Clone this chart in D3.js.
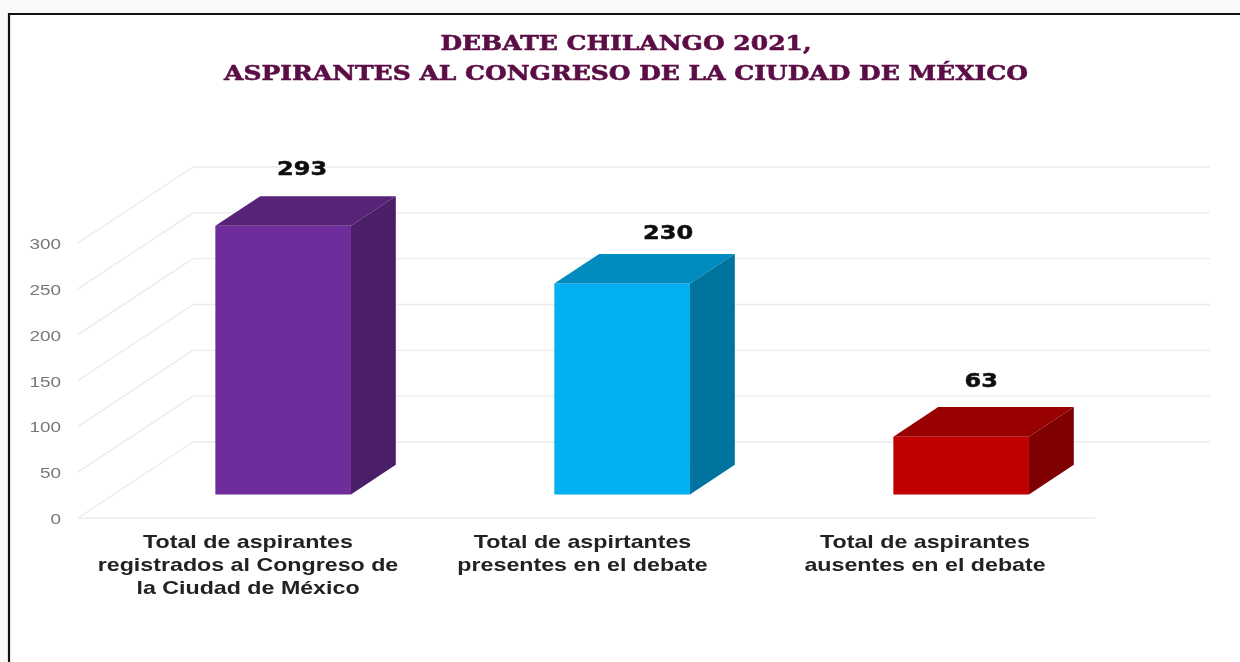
<!DOCTYPE html>
<html>
<head>
<meta charset="utf-8">
<script src="https://cdn.jsdelivr.net/npm/d3@7"></script>
<style>
  html, body { margin: 0; padding: 0; background: #fff; }
  svg { display: block; }
</style>
</head>
<body>
<div id="chart"></div>
<script>
var titleLines = ['DEBATE CHILANGO 2021,', 'ASPIRANTES AL CONGRESO DE LA CIUDAD DE MÉXICO'];
var categories = ['registrados', 'presentes', 'ausentes'];
var values = [293, 230, 63];
var categoryLabels = [
    ['Total de aspirantes', 'registrados al Congreso de', 'la Ciudad de México'],
    ['Total de aspirtantes', 'presentes en el debate'],
    ['Total de aspirantes', 'ausentes en el debate']
];
var tickValues = [0, 50, 100, 150, 200, 250, 300];

var frontColors = ['#6f2c9b', '#00b0f0', '#c00000'];
var topColors = ['#582378', '#008cbf', '#990000'];
var sideColors = ['#4a1f68', '#00749e', '#7e0000'];

var width = 1240,
    height = 662

// oblique projection of the 3d plot box
var depthX = 115,
    depthY = 76,
    barNear = 0.31,
    barFar = 0.7

var x = d3.scaleBand().domain(categories).range([78, 1095]);
var y = d3.scaleLinear().domain([0, 300]).range([518, 243]);
var barWidth = x.bandwidth() * 0.4;

var svg = d3.select('#chart').append('svg')
    .attr('width', width)
    .attr('height', height)

svg.append('filter')
    .attr('id', 'soft')
  .append('feGaussianBlur')
    .attr('stdDeviation', 0.45)

svg.append('rect')
    .attr('width', width)
    .attr('height', height)
    .attr('fill', '#f9f9f9')

svg.append('rect')
    .attr('x', 9)
    .attr('y', 14)
    .attr('width', width - 9)
    .attr('height', height - 14)
    .attr('fill', '#fff')

// frame, open on the right
svg.append('path')
    .attr('d', 'M9,662V14H1240')
    .attr('fill', 'none')
    .attr('stroke', '#111')
    .attr('stroke-width', 2.2)

// the source picture is a stretched scan, so text gets widened with scale()
svg.append('g')
    .attr('filter', 'url(#soft)')
    .selectAll('text')
    .data(titleLines)
    .join('text')
    .attr('transform', function(d, i) { return 'translate(626,' + (50 + i * 30) + ') scale(1.19,1)'; })
    .attr('text-anchor', 'middle')
    .attr('font-family', 'DejaVu Serif')
    .attr('font-weight', 'bold')
    .attr('font-size', 21)
    .attr('fill', '#5b0f45')
    .attr('stroke', '#5b0f45')
    .attr('stroke-width', 0.6)
    .text(function(d) { return d; })

// wall and floor grid
var grid = svg.append('g').attr('fill', 'none').attr('stroke', '#e9ebed').attr('stroke-width', 1.3);

grid.selectAll('.back')
    .data(tickValues)
    .join('line')
    .attr('class', 'back')
    .attr('x1', x.range()[0] + depthX)
    .attr('x2', x.range()[1] + depthX)
    .attr('y1', function(d) { return y(d) - depthY; })
    .attr('y2', function(d) { return y(d) - depthY; })

grid.selectAll('.wall')
    .data(tickValues)
    .join('line')
    .attr('class', 'wall')
    .attr('x1', x.range()[0])
    .attr('x2', x.range()[0] + depthX)
    .attr('y1', function(d) { return y(d); })
    .attr('y2', function(d) { return y(d) - depthY; })

grid.append('line')
    .attr('x1', x.range()[0])
    .attr('x2', x.range()[1])
    .attr('y1', y(0))
    .attr('y2', y(0))

svg.append('g')
    .attr('filter', 'url(#soft)')
    .selectAll('text')
    .data(tickValues)
    .join('text')
    .attr('transform', function(d) { return 'translate(61,' + (y(d) + 6) + ') scale(1.35,1)'; })
    .attr('text-anchor', 'end')
    .attr('font-family', 'Liberation Sans')
    .attr('font-size', 14)
    .attr('fill', '#74797d')
    .text(function(d) { return d; })

var bars = svg.append('g').selectAll('g')
    .data(values)
    .join('g')

function px(i, offset, depth) {
    return x(categories[i]) + (x.bandwidth() - barWidth) / 2 + offset + depth * depthX;
}
function py(v, depth) {
    return y(v) - depth * depthY;
}
function poly(points) {
    return 'M' + points.map(function(p) { return p.join(','); }).join('L') + 'Z';
}

bars.append('path')
    .attr('fill', function(d, i) { return frontColors[i]; })
    .attr('d', function(d, i) {
        return poly([[px(i, 0, barNear), py(d, barNear)], [px(i, barWidth, barNear), py(d, barNear)],
            [px(i, barWidth, barNear), py(0, barNear)], [px(i, 0, barNear), py(0, barNear)]]);
    })

bars.append('path')
    .attr('fill', function(d, i) { return topColors[i]; })
    .attr('d', function(d, i) {
        return poly([[px(i, 0, barNear), py(d, barNear)], [px(i, 0, barFar), py(d, barFar)],
            [px(i, barWidth, barFar), py(d, barFar)], [px(i, barWidth, barNear), py(d, barNear)]]);
    })

bars.append('path')
    .attr('fill', function(d, i) { return sideColors[i]; })
    .attr('d', function(d, i) {
        return poly([[px(i, barWidth, barNear), py(d, barNear)], [px(i, barWidth, barFar), py(d, barFar)],
            [px(i, barWidth, barFar), py(0, barFar)], [px(i, barWidth, barNear), py(0, barNear)]]);
    })

// the value labels were placed by hand in the original
var labelNudgeX = [19, 46, 20];
var labelNudgeY = [29, 23, 28];

svg.append('g')
    .attr('filter', 'url(#soft)')
    .selectAll('text')
    .data(values)
    .join('text')
    .attr('transform', function(d, i) {
        var lx = px(i, barWidth / 2, barNear) + labelNudgeX[i];
        var ly = py(d, barFar) - labelNudgeY[i] + 8;
        return 'translate(' + lx + ',' + ly + ') scale(1.2,1)';
    })
    .attr('text-anchor', 'middle')
    .attr('font-family', 'DejaVu Sans')
    .attr('font-weight', 'bold')
    .attr('font-size', 20)
    .attr('fill', '#111')
    .attr('stroke', '#111')
    .attr('stroke-width', 0.5)
    .text(function(d) { return d; })

// same for the category labels, they are not quite centred on their bands
var categoryNudge = [0.5, -4, -0.5];

svg.append('g')
    .attr('filter', 'url(#soft)')
    .selectAll('text')
    .data(categoryLabels)
    .join('text')
    .attr('transform', function(d, i) {
        return 'translate(' + (x(categories[i]) + x.bandwidth() / 2 + categoryNudge[i]) + ',0) scale(1.29,1)';
    })
    .attr('text-anchor', 'middle')
    .attr('font-family', 'Liberation Sans')
    .attr('font-weight', 'bold')
    .attr('font-size', 18)
    .attr('fill', '#222')
    .each(function(lines) {
        d3.select(this).selectAll('tspan')
            .data(lines)
            .join('tspan')
            .attr('x', 0)
            .attr('y', function(d, j) { return 548 + j * 23; })
            .text(function(d) { return d; })
    })
</script>
</body>
</html>
